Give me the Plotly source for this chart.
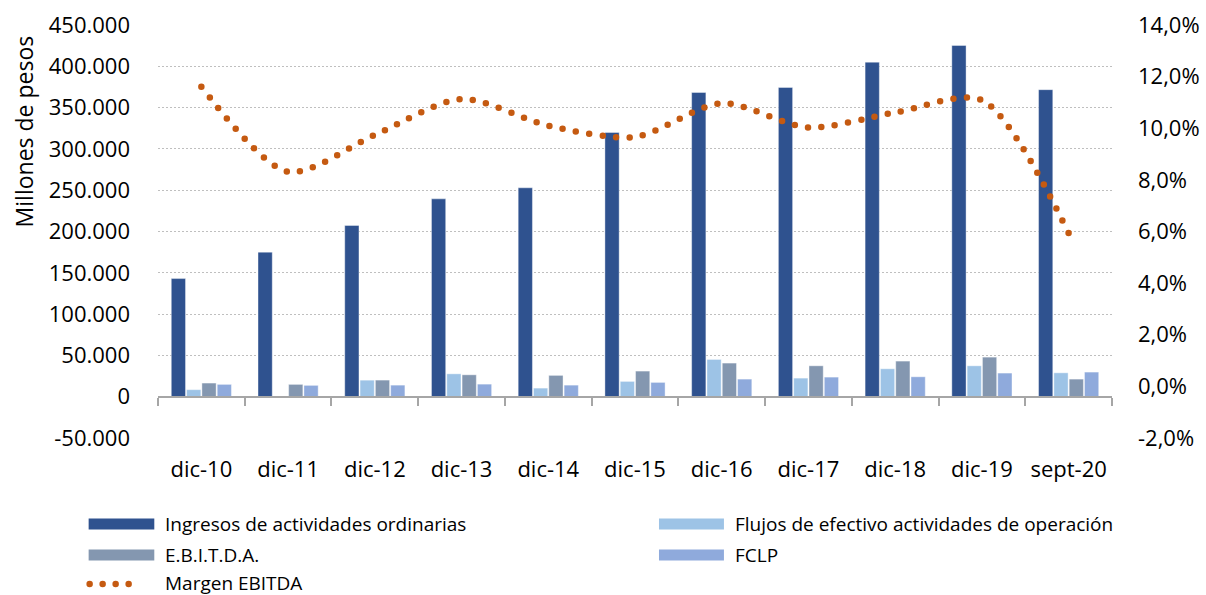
import plotly.graph_objects as go

# ---- data -------------------------------------------------------------
categorias = ["dic-10", "dic-11", "dic-12", "dic-13", "dic-14", "dic-15",
              "dic-16", "dic-17", "dic-18", "dic-19", "sept-20"]

ingresos = [143000, 175000, 207300, 239500, 252900, 319900,
            368300, 374400, 405000, 425200, 371700]
flujos = [8500, -800, 20000, 27700, 10400, 18500,
          45100, 22500, 33800, 37400, 28900]
ebitda = [16500, 14900, 20100, 26500, 25800, 31000,
          40700, 37400, 43100, 47900, 21300]
fclp = [14900, 13700, 14000, 15200, 14000, 17300,
        21300, 23700, 24100, 28600, 29800]
margen = [0.1161, 0.0831, 0.0974, 0.1113, 0.1010, 0.0966,
          0.1097, 0.1003, 0.1061, 0.1109, 0.0594]

ticks_pesos = [-50000, 0, 50000, 100000, 150000, 200000,
               250000, 300000, 350000, 400000, 450000]
ticks_pct = [-0.02, 0.0, 0.02, 0.04, 0.06, 0.08, 0.10, 0.12, 0.14]

labels_pesos = [f"{v:,.0f}".replace(",", ".") for v in ticks_pesos]
labels_pct = [f"{v * 100:.1f}%".replace(".", ",") for v in ticks_pct]

# ---- styling ----------------------------------------------------------
C_ING = "#2F528F"
C_FLU = "#9DC3E6"
C_EBI = "#8497B0"
C_FCL = "#8FAADC"
C_MAR = "#C55A11"
AXIS_GRAY = "#A6A6A6"
FONT = "Open Sans"

W, H = 1206, 595
X0, X1 = 157.7, 1112.3   # plot area, horizontal pixels
Y0, Y1 = 25.0, 438.0     # plot area, vertical pixels (top, bottom)


def px(x):
    return (x - X0) / (X1 - X0)


def py(y):
    return (Y1 - y) / (Y1 - Y0)


fig = go.Figure()

for name, vals, col in [
    ("Ingresos de actividades ordinarias", ingresos, C_ING),
    ("Flujos de efectivo actividades de operación", flujos, C_FLU),
    ("E.B.I.T.D.A.", ebitda, C_EBI),
    ("FCLP", fclp, C_FCL),
]:
    fig.add_trace(go.Bar(x=categorias, y=vals, name=name, marker_color=col,
                         marker_line=dict(color="rgba(255,255,255,0.5)", width=0.8),
                         xaxis="x", yaxis="y", showlegend=False))

fig.add_trace(go.Scatter(
    x=categorias, y=margen, name="Margen EBITDA", mode="lines",
    line=dict(color=C_MAR, width=6.5, shape="spline", smoothing=0.8,
              dash="0px,13.5px"),
    xaxis="x2", yaxis="y2", showlegend=False,
))

# ---- hand-drawn legend ------------------------------------------------
shapes = []
annotations = []
legend_items = [
    ("Ingresos de actividades ordinarias", C_ING, 88.3, 154.0, 162.7, 524.0),
    ("Flujos de efectivo actividades de operación", C_FLU, 659.0, 724.0, 733.3, 524.0),
    ("E.B.I.T.D.A.", C_EBI, 88.3, 154.0, 162.7, 555.0),
    ("FCLP", C_FCL, 659.0, 724.0, 733.3, 555.0),
]
for text, col, xa, xb, xt, yc in legend_items:
    shapes.append(dict(type="rect", xref="paper", yref="paper",
                       x0=px(xa), x1=px(xb), y0=py(yc + 5.5), y1=py(yc - 5.5),
                       fillcolor=col, line=dict(width=0)))
    annotations.append(dict(text=text, xref="paper", yref="paper",
                            x=px(xt), y=py(yc), xanchor="left", yanchor="middle",
                            showarrow=False, font=dict(family=FONT, size=19, color="#000")))

shapes.append(dict(type="line", xref="paper", yref="paper",
                   x0=px(89.3), x1=px(141.3), y0=py(584), y1=py(584),
                   line=dict(color=C_MAR, width=6.5, dash="0px,13px")))
annotations.append(dict(text="Margen EBITDA", xref="paper", yref="paper",
                        x=px(162.7), y=py(583), xanchor="left", yanchor="middle",
                        showarrow=False, font=dict(family=FONT, size=19, color="#000")))

# y-axis title
annotations.append(dict(text="Millones de pesos", xref="paper", yref="paper",
                        x=px(24), y=py(131), textangle=-90,
                        xanchor="center", yanchor="middle", showarrow=False,
                        font=dict(family=FONT, size=23, color="#000")))

zero_pos = (0 - ticks_pesos[0]) / (ticks_pesos[-1] - ticks_pesos[0])

fig.update_layout(
    width=W, height=H,
    margin=dict(l=X0, r=W - X1, t=Y0, b=H - Y1, pad=0, autoexpand=False),
    paper_bgcolor="white", plot_bgcolor="white",
    font=dict(family=FONT, size=22, color="#000"),
    barmode="group", bargap=0.294, bargroupgap=0.07,
    shapes=shapes, annotations=annotations,
    xaxis=dict(type="category", categoryarray=categorias, range=[-0.5, 10.5],
               anchor="free", position=zero_pos, automargin=False,
               showline=True, linecolor=AXIS_GRAY, linewidth=2,
               ticks="outside", tickson="boundaries", ticklen=8, tickwidth=2,
               tickcolor=AXIS_GRAY, showticklabels=False, showgrid=False,
               zeroline=False),
    xaxis2=dict(type="category", categoryarray=categorias, overlaying="x",
                matches="x", anchor="y", showline=False, ticks="", automargin=False,
                showticklabels=True, showgrid=False, zeroline=False,
                ticklabelstandoff=16, tickfont=dict(family=FONT, size=22, color="#000")),
    yaxis=dict(range=[ticks_pesos[0], ticks_pesos[-1]], tickvals=ticks_pesos,
               ticktext=labels_pesos, showgrid=True, gridcolor="#BFBFBF",
               griddash="2px,2px", gridwidth=1, zeroline=False, showline=False,
               ticks="", ticklabelstandoff=27, automargin=False,
               tickfont=dict(family=FONT, size=22, color="#000")),
    yaxis2=dict(range=[ticks_pct[0], ticks_pct[-1]], tickvals=ticks_pct,
                ticktext=labels_pct, overlaying="y", side="right",
                showgrid=False, zeroline=False, showline=False, ticks="",
                ticklabelstandoff=25, automargin=False,
                tickfont=dict(family=FONT, size=22, color="#000")),
)

# round caps turn the zero-length dashes into dots
round_caps = (
    "var s=document.createElement('style');"
    "s.textContent='.js-line, .shapelayer path{stroke-linecap:round;}';"
    "document.head.appendChild(s);"
)

fig.write_html("out.html", post_script=round_caps)
